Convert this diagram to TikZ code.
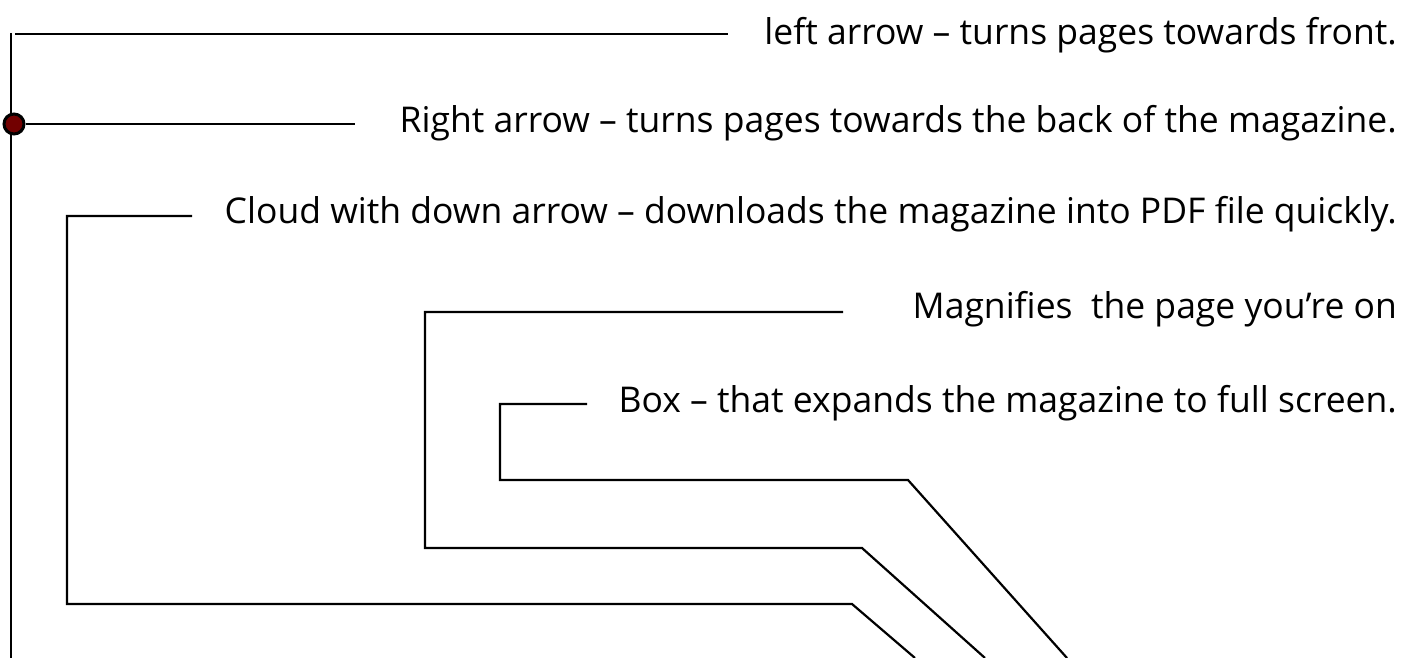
\documentclass[tikz,border=0pt]{standalone}
\usepackage{fontspec}
\setmainfont{Open Sans}
\definecolor{dotred}{HTML}{720000}
\begin{document}
\begin{tikzpicture}[x=1pt,y=-1pt,
  lead/.style={line width=2.2pt, line join=miter},
  lbl/.style={anchor=base east, inner sep=0pt, font=\fontsize{35.5}{40}\selectfont},
  knob/.style={circle, draw=black, fill=dotred, line width=3pt, minimum size=20pt, inner sep=0pt}]
\useasboundingbox (0,0) rectangle (1416,658);
% labels
\node[lbl] (t1) at (1397,45) {left arrow – turns pages towards front.};
\node[lbl] (t2) at (1397,132) {Right arrow – turns pages towards the back of the magazine.};
\node[lbl] (t3) at (1397,223) {Cloud with down arrow – downloads the magazine into PDF file quickly.};
\node[lbl] (t4) at (1397,318) {Magnifies\ \ the page you’re on};
\node[lbl] (t5) at (1397,412) {Box – that expands the magazine to full screen.};
% coordinates
\coordinate (vtop) at (11,33);
\coordinate (vbot) at (11,658);
\coordinate (a1) at (15,34);
\coordinate (a2) at (728,34);
\coordinate (b2) at (355,124);
\coordinate (c1) at (192,216);
\coordinate (c2) at (67,216);
\coordinate (c3) at (67,604);
\coordinate (c4) at (852,604);
\coordinate (c5) at (915,658);
\coordinate (d1) at (843,312);
\coordinate (d2) at (425,312);
\coordinate (d3) at (425,548);
\coordinate (d4) at (862,548);
\coordinate (d5) at (985,658);
\coordinate (e1) at (587,404);
\coordinate (e2) at (500,404);
\coordinate (e3) at (500,480);
\coordinate (e4) at (908,480);
\coordinate (e5) at (1067,658);
% leader lines
\draw[lead] (vtop) -- (vbot);
\draw[lead] (a1) -- (a2);
\node[knob] (dot) at (14,124) {};
\draw[lead] (dot.east) -- (b2);
\draw[lead] (c1) -- (c2) -- (c3) -- (c4) -- (c5);
\draw[lead] (d1) -- (d2) -- (d3) -- (d4) -- (d5);
\draw[lead] (e1) -- (e2) -- (e3) -- (e4) -- (e5);
\end{tikzpicture}
\end{document}
